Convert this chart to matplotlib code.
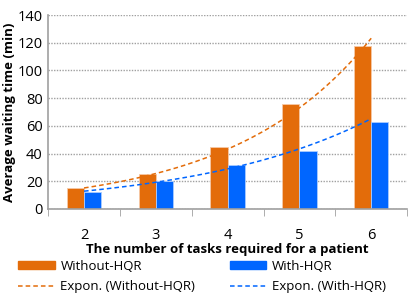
import numpy as np
import matplotlib
matplotlib.use("Agg")
import matplotlib.pyplot as plt
from matplotlib.patches import Patch
from matplotlib.lines import Line2D

plt.rcParams['font.family'] = ['Open Sans', 'DejaVu Sans']

# data
tasks = [2, 3, 4, 5, 6]
without_hqr = [15, 25, 45, 76, 118]
with_hqr = [12, 20, 32, 42, 63]

orange = '#E36C0A'
blue = '#0066FF'

fig = plt.figure(figsize=(4.15, 2.96), dpi=100)
ax = fig.add_axes([0.116, 0.294, 0.865, 0.655])

x = np.arange(len(tasks))
w = 0.24
ax.bar(x - w / 2, without_hqr, w, color=orange, edgecolor='#F6C9A6', linewidth=0.6, zorder=2)
ax.bar(x + w / 2, with_hqr, w, color=blue, edgecolor='#A9CCFF', linewidth=0.6, zorder=2)

# exponential trendlines (fit on log values, like Excel)
xs = np.linspace(0, len(tasks) - 1, 100)
for vals, col in [(without_hqr, orange), (with_hqr, blue)]:
    b, a = np.polyfit(np.array(tasks, float), np.log(vals), 1)
    ax.plot(xs, np.exp(a + b * (xs + tasks[0])), color=col, ls=(0, (3, 2)), lw=1.1, zorder=3)

ax.set_xlim(-0.5, len(tasks) - 0.5)
ax.set_ylim(0, 140)
ax.set_yticks(range(0, 141, 20))
ax.set_xticks(x)
ax.set_xticklabels([str(t) for t in tasks])
ax.set_xticks(np.arange(-0.5, len(tasks)), minor=True)
ax.tick_params(axis='x', which='major', length=0, pad=14, labelsize=10.5)
ax.tick_params(axis='x', which='minor', length=5, color='#A0A0A0')
ax.tick_params(axis='y', length=0, pad=4, labelsize=10.5)
ax.yaxis.grid(True, color='#A0A0A0', ls=(0, (1, 1)), lw=1)
ax.set_axisbelow(True)
for s in ['top', 'right']:
    ax.spines[s].set_visible(False)
for s in ['left', 'bottom']:
    ax.spines[s].set_color('#A0A0A0')
    ax.spines[s].set_linewidth(1.2)

ax.set_ylabel('Average waiting time (min)', fontsize=9.5, fontweight='bold', labelpad=1)
ax.set_xlabel('The number of tasks required for a patient', fontsize=9.5, fontweight='bold', labelpad=0)

handles = [Patch(color=orange),
           Line2D([], [], color=orange, ls=(0, (3, 2)), lw=1.1),
           Patch(color=blue),
           Line2D([], [], color=blue, ls=(0, (3, 2)), lw=1.1)]
labels = ['Without-HQR', 'Expon. (Without-HQR)', 'With-HQR', 'Expon. (With-HQR)']
fig.legend(handles, labels, loc='lower left', bbox_to_anchor=(0.015, -0.03), ncol=2,
           frameon=False, fontsize=9.5, handlelength=2.8, handleheight=0.6,
           columnspacing=2.6, handletextpad=0.4, labelspacing=0.55)

fig.savefig('out.png', dpi=100)
